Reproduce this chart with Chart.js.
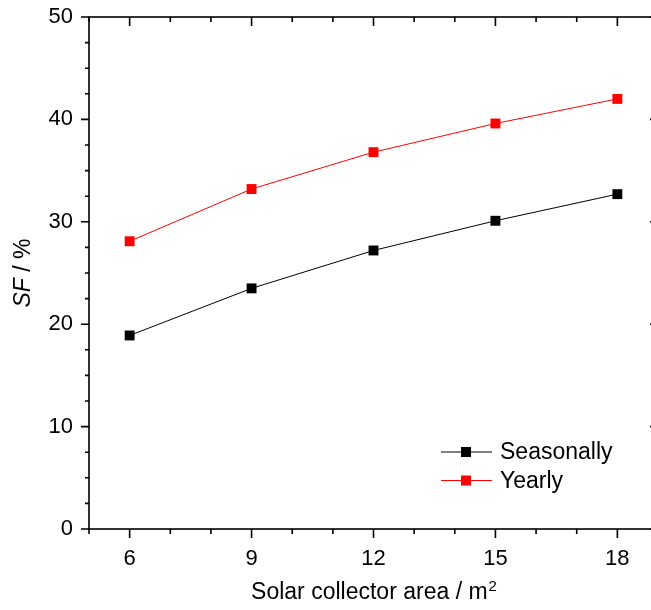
<!DOCTYPE html>
<html>
<head>
<meta charset="utf-8">
<script src="https://cdn.jsdelivr.net/npm/chart.js@4/dist/chart.umd.min.js"></script>
<style>
  html, body { margin: 0; padding: 0; background: #fff; overflow: hidden; }
  #wrap { width: 651px; height: 610px; overflow: hidden; }
  canvas { display: block; }
</style>
</head>
<body>
<div id="wrap"><canvas id="chart" style="width:670px;height:610px"></canvas></div>
<script>
// collector area (m2)
const areas = [6, 9, 12, 15, 18];
// SF values (%)
const seasonally = [18.9, 23.5, 27.2, 30.1, 32.7];
const yearly = [28.1, 33.2, 36.8, 39.6, 42.0];
const xTicks = [6, 9, 12, 15, 18];
const yTicks = [0, 10, 20, 30, 40, 50];
const seriesNames = ['Seasonally', 'Yearly'];

const FONT = '"Liberation Sans", Arial, sans-serif';

// frame, ticks, titles and legend drawn in Origin style
const originStyle = {
    id: 'originStyle',
    afterDraw(chart) {
        const { ctx, chartArea: a, scales: { x, y } } = chart;
        ctx.save();
        ctx.strokeStyle = '#000';
        ctx.lineWidth = 1.6;
        ctx.strokeRect(a.left, a.top, a.right - a.left, a.bottom - a.top);

        ctx.beginPath();
        for (let v = x.min; v <= x.max; v += 1) {
            const px = x.getPixelForValue(v);
            const len = xTicks.includes(v) ? 9 : 5;
            ctx.moveTo(px, a.bottom); ctx.lineTo(px, a.bottom + len);
            ctx.moveTo(px, a.top); ctx.lineTo(px, a.top + len);
        }
        for (let v = y.min; v <= y.max; v += 2.5) {
            const py = y.getPixelForValue(v);
            const len = yTicks.includes(v) ? 8 : 4;
            ctx.moveTo(a.left, py); ctx.lineTo(a.left - len, py);
            ctx.moveTo(a.right, py); ctx.lineTo(a.right - len, py);
        }
        ctx.stroke();

        // y title: italic SF
        ctx.fillStyle = '#000';
        ctx.textBaseline = 'middle';
        ctx.save();
        ctx.translate(24, (a.top + a.bottom) / 2);
        ctx.rotate(-Math.PI / 2);
        ctx.font = 'italic 23px ' + FONT;
        const w1 = ctx.measureText('SF').width;
        ctx.font = '23px ' + FONT;
        const w2 = ctx.measureText(' / %').width;
        let sx = -(w1 + w2) / 2;
        ctx.textAlign = 'left';
        ctx.font = 'italic 23px ' + FONT;
        ctx.fillText('SF', sx, 0);
        ctx.font = '23px ' + FONT;
        ctx.fillText(' / %', sx + w1, 0);
        ctx.restore();

        // x title with superscript
        ctx.textBaseline = 'alphabetic';
        ctx.textAlign = 'left';
        ctx.font = '23px ' + FONT;
        const main = 'Solar collector area / m';
        const mw = ctx.measureText(main).width;
        ctx.font = '15px ' + FONT;
        const sw = ctx.measureText('2').width;
        const cx = (a.left + a.right) / 2;
        const tx = cx - (mw + sw) / 2;
        ctx.font = '23px ' + FONT;
        ctx.fillText(main, tx, 599);
        ctx.font = '15px ' + FONT;
        ctx.fillText('2', tx + mw + 1, 591);

        // legend
        ctx.font = '23px ' + FONT;
        ctx.textBaseline = 'middle';
        chart.data.datasets.forEach((ds, i) => {
            const ly = 452 + i * 28.5;
            ctx.strokeStyle = ds.borderColor;
            ctx.lineWidth = 1;
            ctx.beginPath();
            ctx.moveTo(441, ly); ctx.lineTo(492, ly);
            ctx.stroke();
            ctx.fillStyle = ds.pointBackgroundColor;
            ctx.fillRect(461, ly - 5, 10, 10);
            ctx.fillStyle = '#000';
            ctx.fillText(ds.label, 500, ly + 1);
        });
        ctx.restore();
    }
};

new Chart(document.getElementById('chart'), {
    type: 'line',
    data: {
        datasets: [
            {
                label: seriesNames[0],
                data: areas.map((a, i) => ({ x: a, y: seasonally[i] })),
                borderColor: '#000000',
                pointBackgroundColor: '#000000',
                pointBorderColor: '#000000',
                borderWidth: 1,
                pointStyle: 'rect',
                pointRadius: 7,
                pointBorderWidth: 0
            },
            {
                label: seriesNames[1],
                data: areas.map((a, i) => ({ x: a, y: yearly[i] })),
                borderColor: '#ff0000',
                pointBackgroundColor: '#ff0000',
                pointBorderColor: '#ff0000',
                borderWidth: 1,
                pointStyle: 'rect',
                pointRadius: 7,
                pointBorderWidth: 0
            }
        ]
    },
    options: {
        responsive: false,
        animation: false,
        layout: { padding: { top: 17, right: 12, left: 0, bottom: 0 } },
        plugins: {
            legend: { display: false },
            tooltip: { enabled: false }
        },
        scales: {
            x: {
                type: 'linear',
                min: 5,
                max: 19,
                afterBuildTicks: s => { s.ticks = xTicks.map(v => ({ value: v })); },
                afterFit: s => { s.height = 81; s.paddingLeft = 0; s.paddingRight = 0; },
                grid: { display: false, drawTicks: false },
                border: { display: false },
                ticks: {
                    padding: 17,
                    color: '#000',
                    font: { family: FONT, size: 22 },
                    maxRotation: 0
                }
            },
            y: {
                min: 0,
                max: 50,
                afterBuildTicks: s => { s.ticks = yTicks.map(v => ({ value: v })); },
                afterFit: s => { s.width = 89; s.paddingTop = 0; s.paddingBottom = 0; },
                grid: { display: false, drawTicks: false },
                border: { display: false },
                ticks: {
                    padding: 16,
                    color: '#000',
                    font: { family: FONT, size: 22 }
                }
            }
        }
    },
    plugins: [originStyle]
});
</script>
</body>
</html>
